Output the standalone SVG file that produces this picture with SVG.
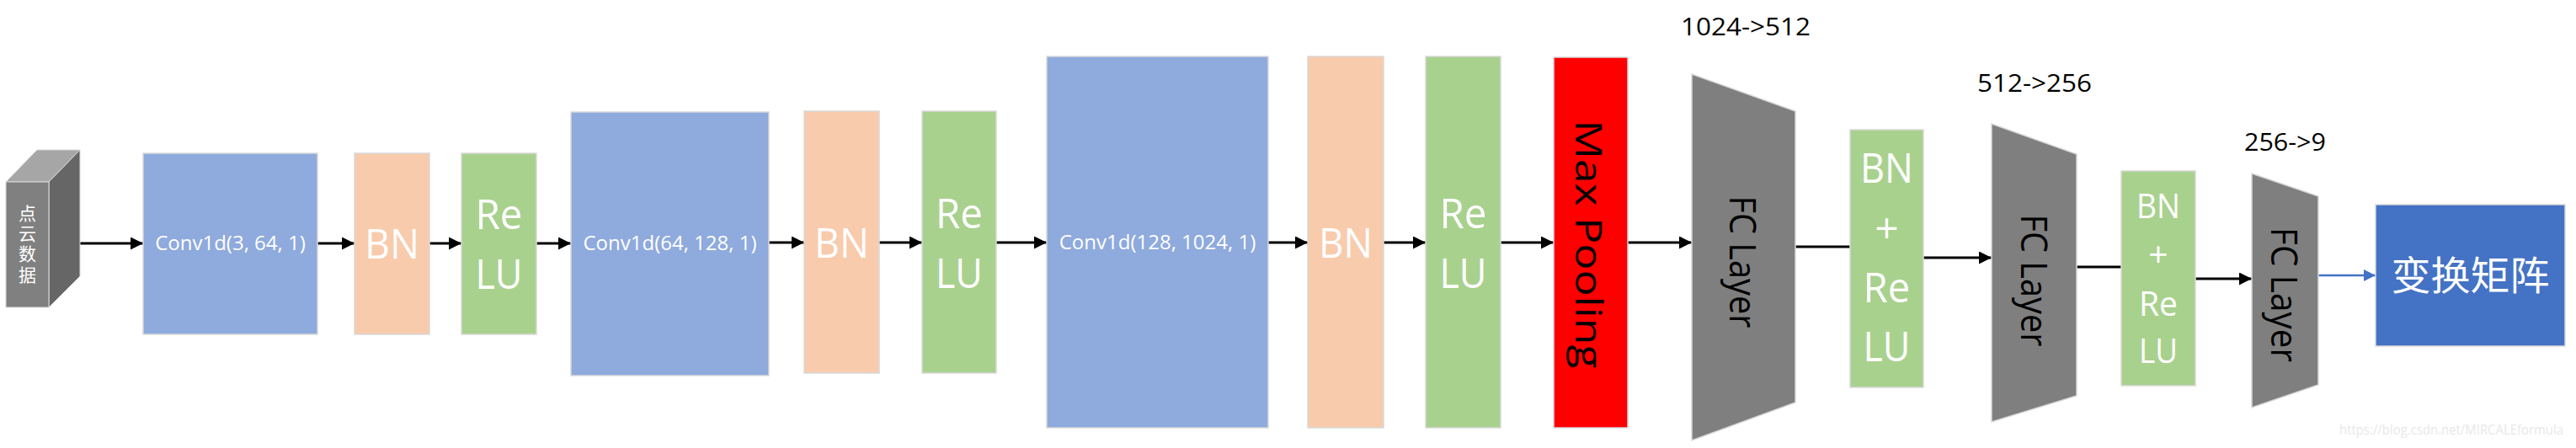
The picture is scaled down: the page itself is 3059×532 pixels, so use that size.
<svg xmlns="http://www.w3.org/2000/svg" width="3059" height="532" viewBox="0 0 3059 532">
<style>
.conv{fill:#8FAADC;stroke:#D9D9D9;stroke-width:1.5}
.bn{fill:#F8CBAD;stroke:#D9D9D9;stroke-width:1.5}
.relu{fill:#A9D18E;stroke:#D9D9D9;stroke-width:1.5}
.pool{fill:#FF0000;stroke:#D9D9D9;stroke-width:1.5}
.fc{fill:#7F7F7F;stroke:#D9D9D9;stroke-width:1.5}
.out{fill:#4472C4;stroke:#D9D9D9;stroke-width:1.5}
.edge{stroke:#000;stroke-width:3;fill:none}
.edgeb{stroke:#4472C4;stroke-width:2.5;fill:none}
text{font-family:"Open Sans","Noto Sans",sans-serif}
.w{fill:#FFFFFF;text-anchor:middle}
.big{font-size:50px}
.ct{font-size:24px}
.mid{font-size:41px}
.lbl{font-size:30px;fill:#000}
.rot{font-size:44px;fill:#000;text-anchor:middle}
.cjk{font-family:"Noto Sans CJK SC",sans-serif;fill:#FFFFFF;text-anchor:middle}
</style>
<defs>
<marker id="ah" viewBox="0 0 16 16" refX="16" refY="8" markerWidth="16" markerHeight="15" markerUnits="userSpaceOnUse" orient="auto">
<path d="M0,0 L16,8 L0,16 z" fill="#000"/>
</marker>
<marker id="ahb" viewBox="0 0 16 16" refX="16" refY="8" markerWidth="15" markerHeight="14" markerUnits="userSpaceOnUse" orient="auto">
<path d="M0,0 L16,8 L0,16 z" fill="#4472C4"/>
</marker>
</defs>
<rect width="3059" height="532" fill="#FFFFFF"/>
<g id="connectors">
<line class="edge" x1="57" y1="289" x2="170" y2="289" marker-end="url(#ah)"/>
<line class="edge" x1="377" y1="289" x2="421" y2="289" marker-end="url(#ah)"/>
<line class="edge" x1="510" y1="289" x2="548" y2="289" marker-end="url(#ah)"/>
<line class="edge" x1="637" y1="289" x2="678" y2="289" marker-end="url(#ah)"/>
<line class="edge" x1="913" y1="288" x2="955" y2="288" marker-end="url(#ah)"/>
<line class="edge" x1="1044" y1="288" x2="1095" y2="288" marker-end="url(#ah)"/>
<line class="edge" x1="1183" y1="288" x2="1243" y2="288" marker-end="url(#ah)"/>
<line class="edge" x1="1506" y1="288" x2="1553" y2="288" marker-end="url(#ah)"/>
<line class="edge" x1="1643" y1="288" x2="1693" y2="288" marker-end="url(#ah)"/>
<line class="edge" x1="1782" y1="288" x2="1845" y2="288" marker-end="url(#ah)"/>
<line class="edge" x1="1933" y1="288" x2="2009" y2="288" marker-end="url(#ah)"/>
<line class="edge" x1="2132" y1="293" x2="2197" y2="293"/>
<line class="edge" x1="2284" y1="306" x2="2365" y2="306" marker-end="url(#ah)"/>
<line class="edge" x1="2466" y1="317" x2="2519" y2="317"/>
<line class="edge" x1="2607" y1="331" x2="2674" y2="331" marker-end="url(#ah)"/>
<line class="edgeb" x1="2753" y1="327" x2="2821" y2="327" marker-end="url(#ahb)"/>
</g>
<g id="input">
<polygon points="7,216 44,178 95,178 58,216" fill="#A6A6A6" stroke="#D9D9D9" stroke-width="1"/>
<polygon points="58,216 95,178 95,328 58,365" fill="#666666" stroke="#D9D9D9" stroke-width="1"/>
<rect x="7" y="216" width="51" height="149" fill="#808080" stroke="#D9D9D9" stroke-width="1"/>
<text class="cjk" font-size="21" x="32.5" y="261">点</text>
<text class="cjk" font-size="21" x="32.5" y="285">云</text>
<text class="cjk" font-size="21" x="32.5" y="309">数</text>
<text class="cjk" font-size="21" x="32.5" y="333.5">据</text>
</g>
<g id="conv1">
<rect class="conv" x="170" y="182" width="207" height="215"/>
<text class="w ct" x="273.5" y="297">Conv1d(3, 64, 1)</text>
</g>
<g id="bn1">
<rect class="bn" x="421" y="182" width="89" height="215"/>
<text class="w big" x="465.5" y="307" textLength="65" lengthAdjust="spacingAndGlyphs">BN</text>
</g>
<g id="relu1">
<rect class="relu" x="548" y="182" width="89" height="215"/>
<text class="w big" x="592.5" y="272" textLength="56" lengthAdjust="spacingAndGlyphs">Re</text>
<text class="w big" x="592.5" y="343" textLength="56" lengthAdjust="spacingAndGlyphs">LU</text>
</g>
<g id="conv2">
<rect class="conv" x="678" y="133" width="235" height="313"/>
<text class="w ct" x="795.5" y="297">Conv1d(64, 128, 1)</text>
</g>
<g id="bn2">
<rect class="bn" x="955" y="132" width="89" height="311"/>
<text class="w big" x="999.5" y="306" textLength="65" lengthAdjust="spacingAndGlyphs">BN</text>
</g>
<g id="relu2">
<rect class="relu" x="1095" y="132" width="88" height="311"/>
<text class="w big" x="1139" y="271" textLength="56" lengthAdjust="spacingAndGlyphs">Re</text>
<text class="w big" x="1139" y="342" textLength="56" lengthAdjust="spacingAndGlyphs">LU</text>
</g>
<g id="conv3">
<rect class="conv" x="1243" y="67" width="263" height="441"/>
<text class="w ct" x="1374.5" y="296">Conv1d(128, 1024, 1)</text>
</g>
<g id="bn3">
<rect class="bn" x="1553" y="67" width="90" height="441"/>
<text class="w big" x="1598" y="306" textLength="64" lengthAdjust="spacingAndGlyphs">BN</text>
</g>
<g id="relu3">
<rect class="relu" x="1693" y="67" width="89" height="441"/>
<text class="w big" x="1737.5" y="271" textLength="56" lengthAdjust="spacingAndGlyphs">Re</text>
<text class="w big" x="1737.5" y="342" textLength="56" lengthAdjust="spacingAndGlyphs">LU</text>
</g>
<g id="maxpool">
<rect class="pool" x="1845" y="68" width="88" height="440"/>
<text class="rot" font-size="52" transform="translate(1889,290) rotate(90)" x="0" y="18.5" textLength="295" lengthAdjust="spacingAndGlyphs">Max Pooling</text>
</g>
<g id="fc1">
<text class="lbl" x="1996" y="42" textLength="154" lengthAdjust="spacingAndGlyphs">1024-&gt;512</text>
<polygon class="fc" points="2009,88 2132,132 2132,478 2009,523"/>
<text class="rot" transform="translate(2070,311) rotate(90)" x="0" y="15.7" textLength="157" lengthAdjust="spacingAndGlyphs">FC Layer</text>
</g>
<g id="bnrelu1">
<rect class="relu" x="2197" y="154" width="87" height="306"/>
<text class="w big" x="2240.5" y="217" textLength="63" lengthAdjust="spacingAndGlyphs">BN</text>
<text class="w big" x="2240.5" y="289">+</text>
<text class="w big" x="2240.5" y="359" textLength="56" lengthAdjust="spacingAndGlyphs">Re</text>
<text class="w big" x="2240.5" y="429" textLength="56" lengthAdjust="spacingAndGlyphs">LU</text>
</g>
<g id="fc2">
<text class="lbl" x="2348" y="109" textLength="136" lengthAdjust="spacingAndGlyphs">512-&gt;256</text>
<polygon class="fc" points="2365,147 2466,183 2466,470 2365,501"/>
<text class="rot" transform="translate(2416,333) rotate(90)" x="0" y="15.7" textLength="157" lengthAdjust="spacingAndGlyphs">FC Layer</text>
</g>
<g id="bnrelu2">
<rect class="relu" x="2519" y="203" width="88" height="255"/>
<text class="w mid" x="2563" y="259" textLength="52" lengthAdjust="spacingAndGlyphs">BN</text>
<text class="w mid" x="2563" y="317">+</text>
<text class="w mid" x="2563" y="375" textLength="46" lengthAdjust="spacingAndGlyphs">Re</text>
<text class="w mid" x="2563" y="431" textLength="46" lengthAdjust="spacingAndGlyphs">LU</text>
</g>
<g id="fc3">
<text class="lbl" x="2665" y="179" textLength="97" lengthAdjust="spacingAndGlyphs">256-&gt;9</text>
<polygon class="fc" points="2674,206 2753,233 2753,457 2674,484"/>
<text class="rot" transform="translate(2713,350) rotate(90)" x="0" y="15.7" textLength="160" lengthAdjust="spacingAndGlyphs">FC Layer</text>
</g>
<g id="matrix">
<rect class="out" x="2821" y="243" width="225" height="168"/>
<text class="cjk" font-size="47" x="2933.5" y="344">变换矩阵</text>
</g>
<text x="2778" y="516" font-family="Liberation Sans, Arial, sans-serif" font-size="17" fill="#E8E8E8" textLength="266" lengthAdjust="spacingAndGlyphs">https://blog.csdn.net/MIRCALEformula</text>
</svg>
